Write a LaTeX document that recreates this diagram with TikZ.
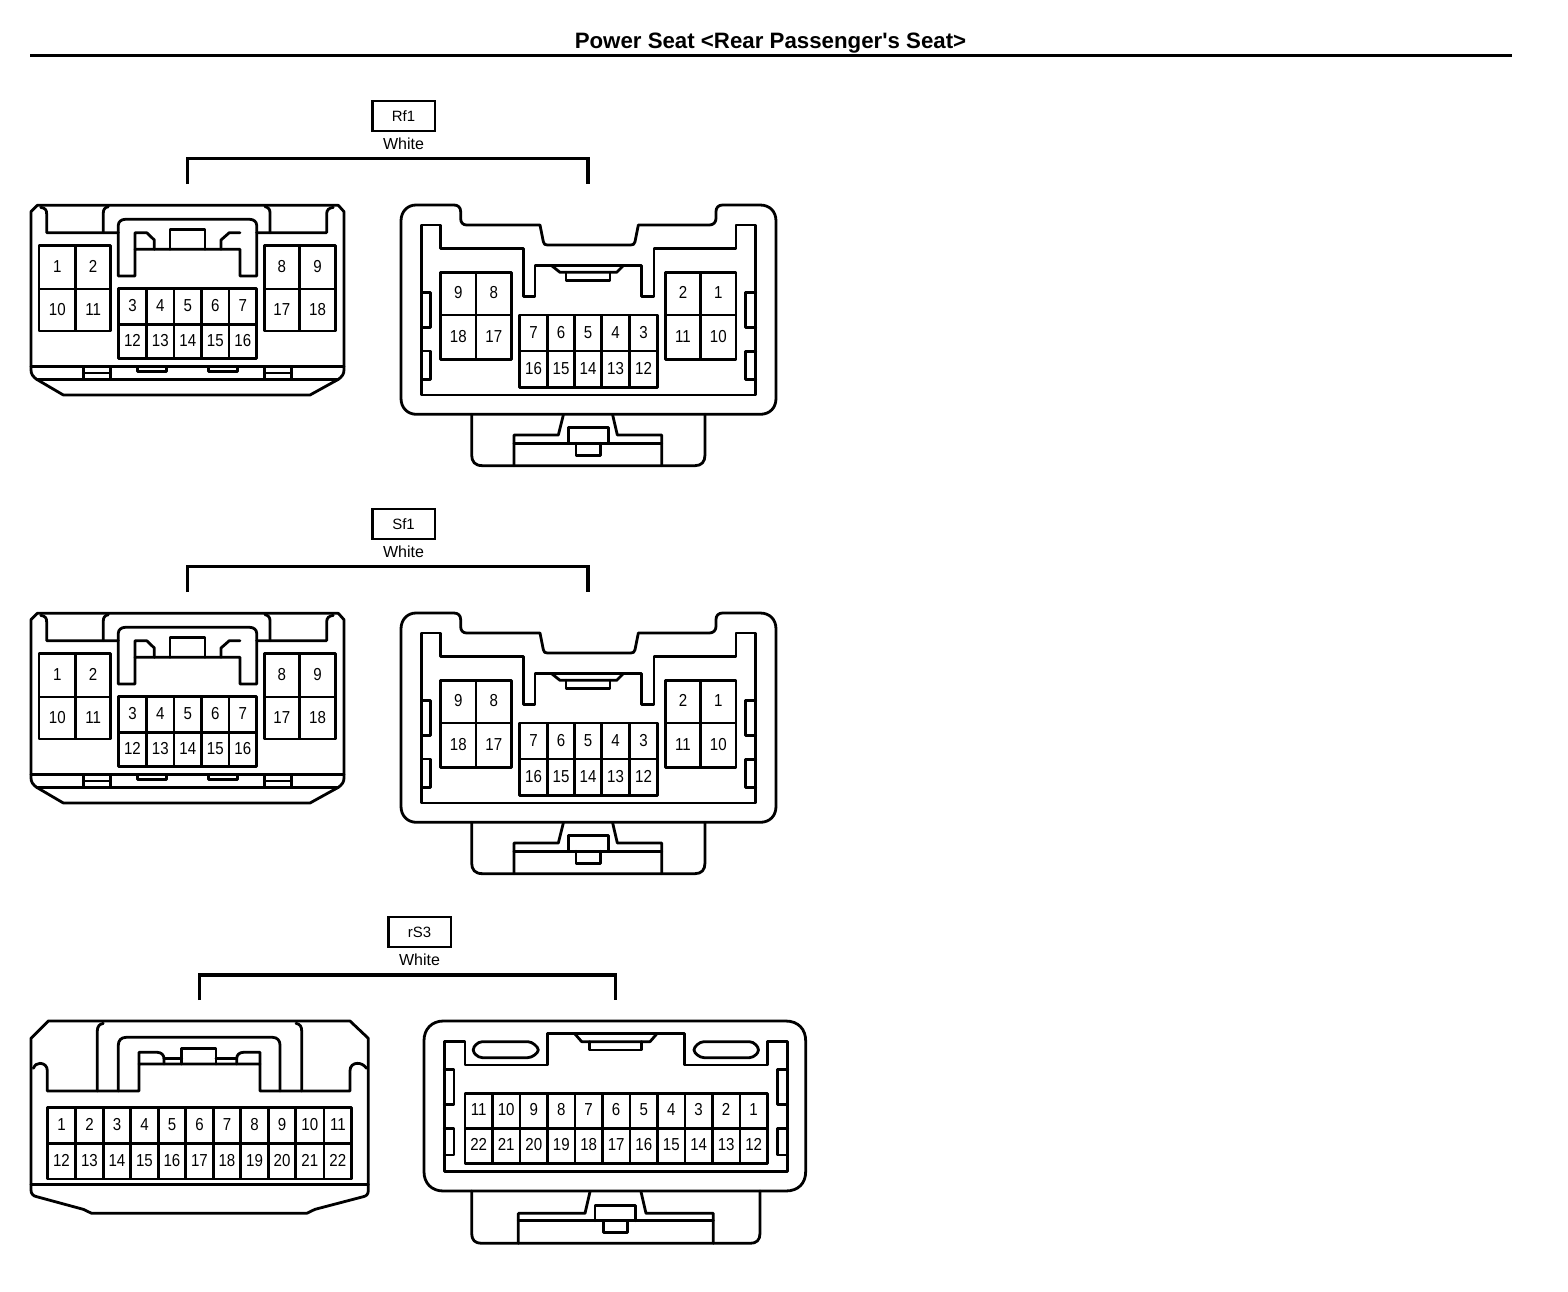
\documentclass[tikz,border=0pt]{standalone}
\usepackage{fontspec}
\setmainfont{Liberation Sans}
\newfontfamily\pinfont[FakeStretch=0.87]{Liberation Sans}
\newfontfamily\plainsans{Liberation Sans}
\tikzset{
  wire/.style={line width=2.1pt,line join=round,line cap=round,black},
  heavy/.style={line width=2.6pt,black},
  pinlabel/.style={inner sep=0pt,text height=9.5pt,text depth=0pt,font=\pinfont\fontsize{13}{13}\selectfont,text=black},
  tagbox/.style={draw=black,line width=2pt,minimum width=47pt,minimum height=22.5pt,inner sep=0pt,font=\fontsize{11.2}{12}\selectfont},
  colourlabel/.style={inner sep=0pt,font=\fontsize{12}{12}\selectfont},
  titlelabel/.style={inner sep=0pt,font=\plainsans\bfseries\fontsize{16.7}{18}\selectfont}
}
% one row of pin cells: top, bottom, list of left/right/label
\newcommand{\pinrow}[3]{%
  \foreach \xa/\xb/\t in {#3}{%
    \draw[wire] (\xa,#1) rectangle (\xb,#2);
    \node[pinlabel] (p\t) at ({(\xa+\xb)/2},{(#1+#2)/2-4}) {\t};
  }}
% ----- plug, 18 pins
\newcommand{\plugA}[2]{%
\begin{scope}[shift={(20,190+#1)},x=0.25pt,y=-0.25pt,name prefix=#2-]
 \draw[wire] (33,65)--(52,46)--(955,46)--(972,65)--(972,540) .. controls (972,552) and (966,560) .. (955,568) -- (870,615)--(130,615)--(50,568) .. controls (39,560) and (33,552) .. (33,540) --cycle;
 \draw[wire] (33,530)--(972,530) (50,568)--(955,568);
 \draw[wire] (62,52) .. controls (76,54) and (80,60) .. (80,72) -- (80,128) -- (295,128);
 \draw[wire] (250,128)--(250,68) .. controls (250,58) and (255,52) .. (265,50);
 \draw[wire] (750,128)--(750,68) .. controls (750,58) and (745,52) .. (735,50);
 \draw[wire] (710,128)--(920,128)--(920,72) .. controls (920,60) and (926,54) .. (940,52);
 \draw[wire] (295,258)--(295,105) .. controls (295,95) and (305,88) .. (315,88) -- (690,88) .. controls (700,88) and (710,95) .. (710,105) -- (710,258)--(660,258)--(660,178)--(345,178)--(345,258)--cycle;
 \draw[wire] (345,178)--(345,128)--(380,128)--(403,150)--(403,178);
 \draw[wire] (450,178)--(450,118)--(555,118)--(555,178);
 \draw[wire] (603,178)--(603,150)--(628,128)--(660,128);
 \draw[wire] (190,530)--(190,568) (272,530)--(272,568) (190,549)--(272,549);
 \draw[wire] (733,530)--(733,568) (815,530)--(815,568) (733,549)--(815,549);
 \draw[wire] (352,530)--(352,545)--(440,545)--(440,530);
 \draw[wire] (566,530)--(566,545)--(652,545)--(652,530);
 \pinrow{167}{297}{57/167/1,167/272/2,733/838/8,838/947/9}
 \pinrow{297}{423}{57/167/10,167/272/11,733/838/17,838/947/18}
 \pinrow{296}{403}{295/380/3,380/462/4,462/545/5,545/627/6,627/710/7}
 \pinrow{403}{506}{295/380/12,380/462/13,462/545/14,545/627/15,627/710/16}
\end{scope}}
% ----- socket, 18 pins
\newcommand{\plugB}[2]{%
\begin{scope}[shift={(390,195+#1)},x=0.25pt,y=-0.25pt,name prefix=#2-]
 \draw[wire] (78,30)--(192,30) .. controls (205,30) and (212,38) .. (212,50) -- (212,70) .. controls (212,82) and (218,90) .. (230,90) -- (450,90)--(460,140) .. controls (462,148) and (465,150) .. (472,150) -- (722,150) .. controls (730,150) and (733,148) .. (735,140) -- (745,90)--(958,90) .. controls (970,90) and (978,82) .. (978,70) -- (978,50) .. controls (978,38) and (985,30) .. (998,30) -- (1110,30) .. controls (1140,30) and (1158,50) .. (1158,78) -- (1158,610) .. controls (1158,638) and (1140,658) .. (1110,658) -- (80,658) .. controls (52,658) and (33,638) .. (33,610) -- (33,78) .. controls (33,50) and (52,30) .. (78,30) -- cycle;
 \draw[wire] (95,600)--(95,90)--(152,90)--(152,160)--(400,160)--(400,305)--(435,305)--(435,212)--(755,212)--(755,305)--(792,305)--(792,160)--(1038,160)--(1038,90)--(1097,90)--(1097,600)--cycle;
 \draw[wire] (485,212)--(510,232)--(680,232)--(700,212);
 \draw[wire] (528,232)--(528,257)--(660,257)--(660,232);
 \draw[wire] (95,292)--(122,292)--(122,397)--(95,397);
 \draw[wire] (95,468)--(122,468)--(122,553)--(95,553);
 \draw[wire] (1097,292)--(1066,292)--(1066,397)--(1097,397);
 \draw[wire] (1097,470)--(1066,470)--(1066,553)--(1097,553);
 \draw[wire] (245,658)--(245,780) .. controls (245,800) and (255,812) .. (277,812) -- (915,812) .. controls (935,812) and (945,800) .. (945,780) -- (945,658);
 \draw[wire] (372,812)--(372,720)--(505,720)--(520,660);
 \draw[wire] (668,660)--(682,720)--(815,720)--(815,812);
 \draw[wire] (372,745)--(815,745);
 \draw[wire] (535,745)--(535,697)--(655,697)--(655,745);
 \draw[wire] (558,745)--(558,782)--(632,782)--(632,745);
 \pinrow{232}{360}{152/258/9,258/365/8,826/932/2,932/1038/1}
 \pinrow{360}{493}{152/258/18,258/365/17,826/932/11,932/1038/10}
 \pinrow{360}{468}{388/473/7,473/553/6,553/635/5,635/718/4,718/803/3}
 \pinrow{468}{577}{388/473/16,473/553/15,553/635/14,635/718/13,718/803/12}
\end{scope}}
% ----- plug, 22 pins
\newcommand{\plugC}{%
\begin{scope}[shift={(20,1010)},x=0.25pt,y=-0.25pt,name prefix=c-]
 \draw[wire] (33,85)--(85,33)--(990,33)--(1045,85)--(1045,540) .. controls (1045,552) and (1040,558) .. (1030,560) -- (885,598)--(860,610)--(215,610)--(190,598)--(50,560) .. controls (40,558) and (33,552) .. (33,540) -- cycle;
 \draw[wire] (33,523)--(1045,523);
 \draw[wire] (40,175) .. controls (45,165) and (50,160) .. (60,160) .. controls (72,160) and (82,168) .. (82,182) -- (82,243)--(357,243)--(357,162)--(720,162)--(720,243)--(990,243)--(990,182) .. controls (990,168) and (1000,160) .. (1012,160) .. controls (1024,160) and (1032,165) .. (1040,175);
 \draw[wire] (232,243)--(232,62) .. controls (232,50) and (238,42) .. (250,40);
 \draw[wire] (845,243)--(845,62) .. controls (845,50) and (840,42) .. (828,40);
 \draw[wire] (295,243)--(295,105) .. controls (295,92) and (303,82) .. (318,82) -- (758,82) .. controls (772,82) and (780,92) .. (780,105) -- (780,243);
 \draw[wire] (357,162)--(357,127)--(412,127) .. controls (424,127) and (432,135) .. (432,146) -- (432,162);
 \draw[wire] (432,146)--(485,146) (485,162)--(485,115)--(588,115)--(588,162) (588,146)--(650,146);
 \draw[wire] (650,162)--(650,146) .. controls (650,135) and (658,127) .. (670,127) -- (720,127)--(720,162);
 \pinrow{292}{400}{82/167/1,167/250/2,250/332/3,332/415/4,415/497/5,497/580/6,580/662/7,662/745/8,745/827/9,827/912/10,912/995/11}
 \pinrow{400}{507}{82/167/12,167/250/13,250/332/14,332/415/15,415/497/16,497/580/17,580/662/18,662/745/19,745/827/20,827/912/21,912/995/22}
\end{scope}}
% ----- socket, 22 pins
\newcommand{\plugD}{%
\begin{scope}[shift={(415,1010)},x=0.25pt,y=-0.25pt,name prefix=d-]
 \draw[wire] (85,33)--(1112,33) .. controls (1150,33) and (1172,58) .. (1172,92) -- (1172,485) .. controls (1172,520) and (1150,543) .. (1112,543) -- (85,543) .. controls (50,543) and (27,520) .. (27,485) -- (27,92) .. controls (27,58) and (50,33) .. (85,33) -- cycle;
 \draw[wire] (88,485)--(88,95)--(150,95)--(150,165)--(398,165)--(398,70)--(808,70)--(808,165)--(1057,165)--(1057,95)--(1118,95)--(1118,485)--cycle;
 \draw[wire,rounded corners=3pt] (190,95)--(350,95)--(375,120)--(350,143)--(190,143)--(170,120)--cycle;
 \draw[wire,rounded corners=3pt] (855,95)--(1015,95)--(1035,120)--(1015,143)--(855,143)--(832,120)--cycle;
 \draw[wire] (480,72)--(500,95)--(705,95)--(725,72);
 \draw[wire] (523,95)--(523,120)--(680,120)--(680,95);
 \draw[wire] (88,178)--(117,178)--(117,283)--(88,283);
 \draw[wire] (88,355)--(117,355)--(117,435)--(88,435);
 \draw[wire] (1118,178)--(1088,178)--(1088,283)--(1118,283);
 \draw[wire] (1118,355)--(1088,355)--(1088,435)--(1118,435);
 \draw[wire] (170,543)--(170,670) .. controls (170,690) and (180,700) .. (200,700) -- (1005,700) .. controls (1025,700) and (1035,690) .. (1035,670) -- (1035,543);
 \draw[wire] (310,700)--(310,610)--(510,610)--(525,545);
 \draw[wire] (678,545)--(693,610)--(895,610)--(895,700);
 \draw[wire] (310,632)--(895,632);
 \draw[wire] (540,632)--(540,587)--(662,587)--(662,632);
 \draw[wire] (565,632)--(565,668)--(638,668)--(638,632);
 \pinrow{250}{355}{150/232/11,232/315/10,315/398/9,398/480/8,480/562/7,562/645/6,645/728/5,728/810/4,810/892/3,892/975/2,975/1057/1}
 \pinrow{355}{460}{150/232/22,232/315/21,315/398/20,398/480/19,480/562/18,562/645/17,645/728/16,728/810/15,810/892/14,892/975/13,975/1057/12}
\end{scope}}
% ----- connector tag with colour label
\newcommand{\tagbracket}[4]{% name, tag x, tag y, text
  \node[tagbox] (#1) at (#2,#3) {#4};
  \node[colourlabel] (#1w) at (#2,#3+27.5) {White};
}
\begin{document}
\begin{tikzpicture}[x=0.75pt,y=-0.75pt]
 \useasboundingbox (0,0) rectangle (1568,1292);
 \fill[white] (0,0) rectangle (1568,1292);
 \node[titlelabel] (title) at (770.5,43) {Power Seat <Rear Passenger's Seat>};
 \coordinate (ruleL) at (30,55.5);
 \coordinate (ruleR) at (1512,55.5);
 \draw[heavy] (ruleL) -- (ruleR);
 % Rf1
 \tagbracket{rf}{403.5}{116}{Rf1}
 \coordinate (rfL) at (187.5,184); \coordinate (rfR) at (588,184);
 \draw[heavy] (rfL) |- (rfw.south |- 0,158.5) -| (rfR);
 \plugA{0}{rfa}
 \plugB{0}{rfb}
 % Sf1
 \tagbracket{sf}{403.5}{524}{Sf1}
 \coordinate (sfL) at (187.5,592); \coordinate (sfR) at (588,592);
 \draw[heavy] (sfL) |- (sfw.south |- 0,566.5) -| (sfR);
 \plugA{408}{sfa}
 \plugB{408}{sfb}
 % rS3
 \tagbracket{rs}{419.5}{932}{rS3}
 \coordinate (rsL) at (199.5,1000); \coordinate (rsR) at (615.5,1000);
 \draw[heavy] (rsL) |- (rsw.south |- 0,975) -| (rsR);
 \plugC
 \plugD
\end{tikzpicture}
\end{document}
